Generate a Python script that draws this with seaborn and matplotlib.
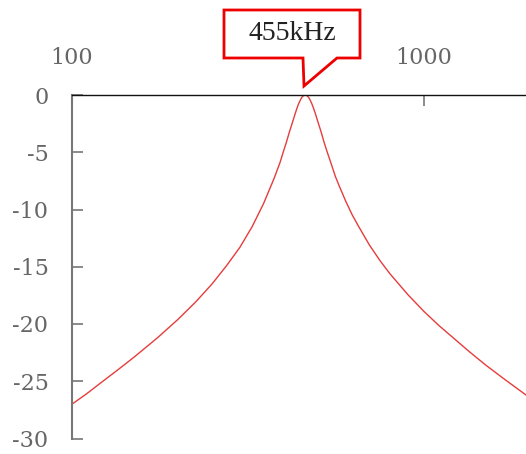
import numpy as np
import pandas as pd
import matplotlib
matplotlib.use("Agg")
import matplotlib.pyplot as plt
from matplotlib.patches import Polygon
import seaborn as sns

# Data (frequency in kHz, response in dB)
freq_khz = [100, 110, 120, 135, 150, 175, 200, 225, 250, 275, 300, 325, 350, 375, 390,
            400, 405, 415, 420, 425, 430, 435, 440, 445, 450, 455, 460, 465, 470, 475,
            480, 485, 490, 495, 500, 510, 520, 530, 545, 560, 575, 600, 625, 650, 700,
            750, 800, 900, 1000, 1100, 1200, 1350, 1500, 1700, 1950]
level_db = [-27.0, -26.1, -25.2, -24.0, -22.9, -21.2, -19.6, -18.05, -16.5, -14.9, -13.3, -11.5, -9.5, -7.3, -5.9,
            -4.8, -4.3, -3.2, -2.7, -2.2, -1.7, -1.22, -0.8, -0.47, -0.2, -0.05, 0.0, -0.05, -0.2, -0.44,
            -0.75, -1.11, -1.5, -1.93, -2.37, -3.2, -4.1, -4.9, -6.0, -7.1, -7.97, -9.3, -10.45, -11.4, -13.1,
            -14.46, -15.6, -17.43, -18.9, -20.1, -21.1, -22.45, -23.6, -24.86, -26.2]
x_ticks = [100, 1000]
x_tick_labels = ["100", "1000"]
y_ticks = [0, -5, -10, -15, -20, -25, -30]
y_tick_labels = ["0", "-5", "-10", "-15", "-20", "-25", "-30"]
callout_text = "455kHz"

df = pd.DataFrame({"freq": freq_khz, "db": level_db})

sns.set_theme(style="white")
plt.rcParams["font.family"] = ["DejaVu Serif"]

W, H = 526, 454
fig = plt.figure(figsize=(W / 100, H / 100), dpi=100)
ax = fig.add_axes([72 / W, 1 - 438.5 / H, 1 - 72 / W, (438.5 - 95) / H])

sns.lineplot(data=df, x="freq", y="db", ax=ax, color="#e63c3c", linewidth=1.0)
ax.set_xscale("log")
ax.set_xlim(100, 1950)
ax.set_ylim(-30, 0)

ax.xaxis.set_ticks_position("top")
ax.set_xticks(x_ticks)
ax.set_xticklabels(x_tick_labels)
ax.xaxis.set_minor_locator(matplotlib.ticker.NullLocator())
ax.set_yticks(y_ticks)
ax.set_yticklabels(y_tick_labels)
ax.set_xlabel("")
ax.set_ylabel("")

for s in ["right", "bottom"]:
    ax.spines[s].set_visible(False)
ax.spines["top"].set_color("#111111")
ax.spines["top"].set_linewidth(1.0)
ax.spines["left"].set_color("#777777")
ax.spines["left"].set_linewidth(1.5)

ax.tick_params(axis="x", direction="in", length=8, width=1.2, color="#777777",
               labelsize=16, labelcolor="#666666", pad=19, top=True, bottom=False)
ax.tick_params(axis="y", direction="in", length=8, width=1.2, color="#777777",
               labelsize=16, labelcolor="#666666", pad=17, left=True)
for lab in ax.get_yticklabels() + ax.get_xticklabels():
    lab.set_fontfamily("DejaVu Serif")
    lab.set_fontweight("light")

# Callout box
pts = [(224, 10), (360, 10), (360, 58), (337, 58), (304, 86), (303, 58), (224, 58)]
poly = Polygon([(x / W, 1 - y / H) for x, y in pts], closed=True,
               transform=fig.transFigure, facecolor="white", edgecolor="#ee0000",
               linewidth=2.0, joinstyle="miter")
fig.add_artist(poly)
fig.text(292 / W, 1 - 34 / H, callout_text, ha="center", va="center",
         fontsize=20, color="#222222", family=["Liberation Serif", "DejaVu Serif"])

fig.savefig("out.png", dpi=100)
